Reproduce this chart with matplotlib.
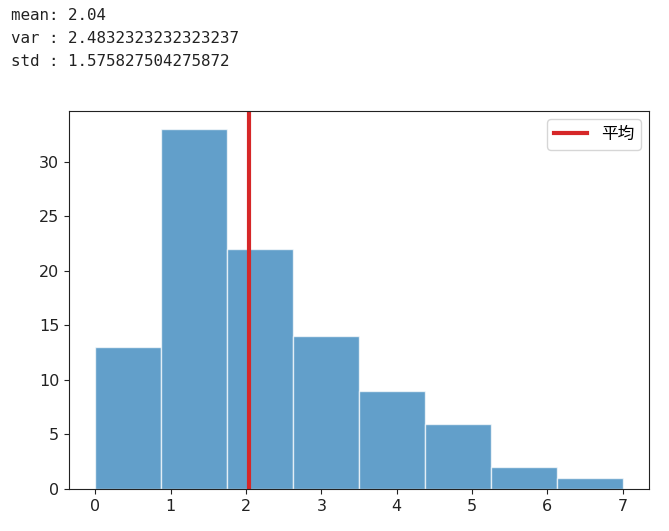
import numpy as np
import matplotlib
matplotlib.use("Agg")
import matplotlib.pyplot as plt

# data
bin_range = (0, 7)
n_bins = 8
counts = [13, 33, 22, 14, 9, 6, 2, 1]
mean_val = 2.04
var_val = "2.4832323232323237"
std_val = "1.575827504275872"
legend_label = "平均"

edges = np.linspace(bin_range[0], bin_range[1], n_bins + 1)

fig = plt.figure(figsize=(6.69, 5.31), dpi=100)
ax = fig.add_axes([69/669, (531-489)/531, (649-69)/669, (489-111)/531])

ax.hist(edges[:-1], bins=edges, weights=counts, color="C0", alpha=0.7,
        edgecolor="white", linewidth=1)
ax.axvline(mean_val, color="#d62728", linewidth=3, label=legend_label)

ax.tick_params(labelsize=11.5, colors="#222222")
for s in ax.spines.values():
    s.set_color("#222222")
leg = ax.legend(prop={"family": ["Noto Sans CJK JP", "DejaVu Sans"], "size": 12})

lines = [f"mean: {mean_val}", f"var : {var_val}", f"std : {std_val}"]
for i, t in enumerate(lines):
    fig.text(11/669, 1 - (8 + 23*i)/531, t, family="DejaVu Sans Mono",
             fontsize=11.4, va="top", ha="left", color="#222222")

fig.savefig("out.png", dpi=100)
